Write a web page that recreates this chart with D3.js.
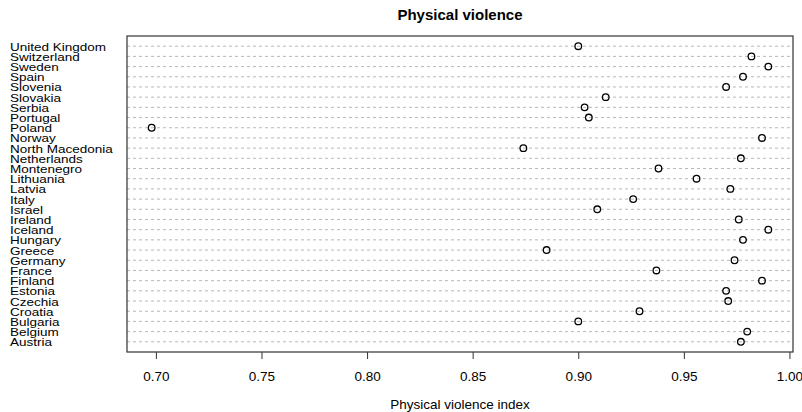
<!DOCTYPE html>
<html>
<head>
<meta charset="utf-8">
<script src="https://cdn.jsdelivr.net/npm/d3@7"></script>
<style>
  body { margin: 0; background: #fff; }
  text { font-family: "Liberation Sans", Arial, Helvetica, sans-serif; }
</style>
</head>
<body>
<div id="root"></div>
<script>
// Countries, top to bottom as drawn
const countries = ["United Kingdom", "Switzerland", "Sweden", "Spain", "Slovenia", "Slovakia",
  "Serbia", "Portugal", "Poland", "Norway", "North Macedonia", "Netherlands", "Montenegro",
  "Lithuania", "Latvia", "Italy", "Israel", "Ireland", "Iceland", "Hungary", "Greece",
  "Germany", "France", "Finland", "Estonia", "Czechia", "Croatia", "Bulgaria", "Belgium", "Austria"];
const violenceIndex = [0.900, 0.982, 0.990, 0.978, 0.970, 0.913,
  0.903, 0.905, 0.698, 0.987, 0.874, 0.977, 0.938,
  0.956, 0.972, 0.926, 0.909, 0.976, 0.990, 0.978, 0.885,
  0.974, 0.937, 0.987, 0.970, 0.971, 0.929, 0.900, 0.980, 0.977];
const tickValues = [0.70, 0.75, 0.80, 0.85, 0.90, 0.95, 1.00];

const w = 802;
const h = 412;
const plotLeft = 127, plotRight = 793, plotTop = 36, plotBottom = 352;

const svg = d3.select("#root")
  .append("svg")
  .attr("width", w)
  .attr("height", h);

// x range padded 4% like R's default
const ext = d3.extent(violenceIndex);
const pad = (ext[1] - ext[0]) * 0.04;
const x = d3.scaleLinear()
  .domain([ext[0] - pad, ext[1] + pad])
  .range([plotLeft, plotRight]);

const n = countries.length;
const y = d3.scaleLinear()
  .domain([0, n + 1])
  .range([plotBottom, plotTop]);
// row position: first country at top
const rowY = i => y(n - i);

// dotted guide lines
svg.selectAll("line.guide")
  .data(countries)
  .enter()
  .append("line")
  .attr("class", "guide")
  .attr("x1", plotLeft)
  .attr("x2", plotRight)
  .attr("y1", (d, i) => rowY(i))
  .attr("y2", (d, i) => rowY(i))
  .attr("stroke", "#b8b8b8")
  .attr("stroke-width", 1)
  .attr("stroke-dasharray", "3,3");

// points
svg.selectAll("circle.pt")
  .data(violenceIndex)
  .enter()
  .append("circle")
  .attr("class", "pt")
  .attr("cx", d => x(d))
  .attr("cy", (d, i) => rowY(i))
  .attr("r", 3.3)
  .attr("fill", "none")
  .attr("stroke", "#000")
  .attr("stroke-width", 1.3);

// country labels (squashed a bit vertically, as in the original)
svg.selectAll("text.lab")
  .data(countries)
  .enter()
  .append("text")
  .attr("class", "lab")
  .attr("transform", (d, i) => `translate(10, ${rowY(i) + 4.5}) scale(1, 0.82)`)
  .style("font-size", "13.5px")
  .text(d => d);

// box
svg.append("rect")
  .attr("x", plotLeft)
  .attr("y", plotTop)
  .attr("width", plotRight - plotLeft)
  .attr("height", plotBottom - plotTop)
  .attr("fill", "none")
  .attr("stroke", "#333")
  .attr("stroke-width", 1.2);

// x axis
const xAxis = d3.axisBottom(x)
  .tickValues(tickValues)
  .tickFormat(d3.format(".2f"))
  .tickSize(7)
  .tickPadding(12);

const gx = svg.append("g")
  .attr("transform", `translate(0, ${plotBottom})`)
  .call(xAxis);
gx.select(".domain").remove();
gx.selectAll("line").attr("stroke", "#333");
gx.selectAll("text")
  .style("font-size", "13.5px")
  .style("font-family", "Liberation Sans, Arial, sans-serif")
  .attr("fill", "#000");

// titles
svg.append("text")
  .attr("x", (plotLeft + plotRight) / 2)
  .attr("y", 20)
  .attr("text-anchor", "middle")
  .style("font-size", "15px")
  .style("font-weight", "bold")
  .text("Physical violence");

svg.append("text")
  .attr("x", (plotLeft + plotRight) / 2)
  .attr("y", 409)
  .attr("text-anchor", "middle")
  .style("font-size", "13.5px")
  .text("Physical violence index");
</script>
</body>
</html>
